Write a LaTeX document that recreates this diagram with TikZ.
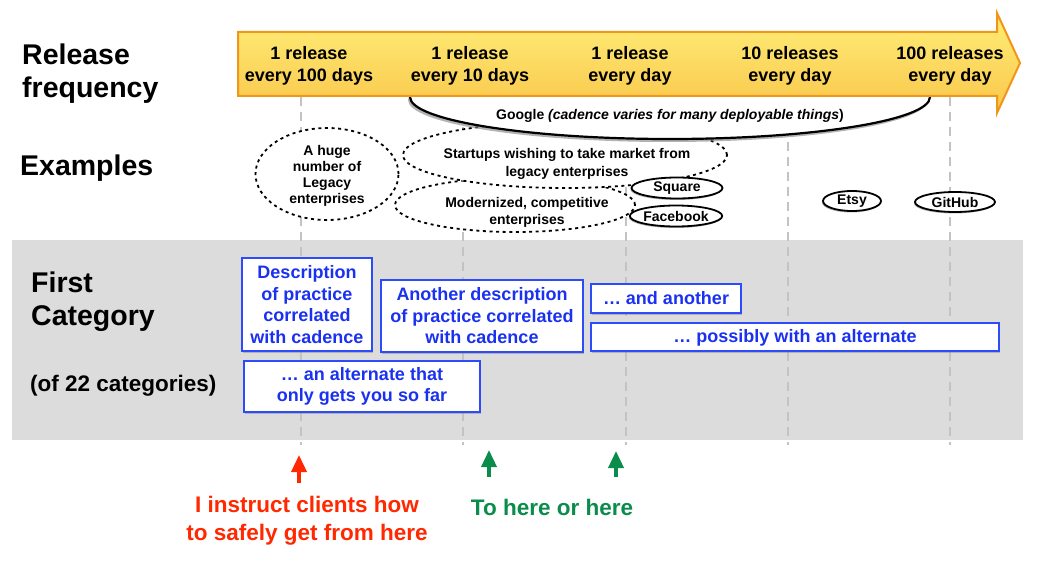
\documentclass[tikz,border=0pt]{standalone}
\usepackage{fontspec}
\setmainfont{Liberation Sans}
\usetikzlibrary{shapes.geometric,shadows,arrows.meta}
\definecolor{arrfill1}{RGB}{255,238,120}
\definecolor{arrfill2}{RGB}{249,198,74}
\definecolor{arrline}{RGB}{240,150,25}
\definecolor{bandgray}{RGB}{220,220,220}
\definecolor{tickgray}{RGB}{195,195,195}
\definecolor{boxblue}{RGB}{45,75,250}
\definecolor{txtblue}{RGB}{26,50,240}
\definecolor{myred}{RGB}{255,40,0}
\definecolor{mygreen}{RGB}{10,140,75}
\tikzset{
  fs/.style 2 args={font=\fontsize{#1}{#2}\selectfont\bfseries},
  head/.style={fs={28.5}{33}, align=left, anchor=base west, inner sep=0pt},
  freq/.style={fs={18}{22}, align=center},
  dotell/.style={ellipse, draw, line width=1.8pt, dash pattern=on 3pt off 3.6pt, fill=white, inner sep=0pt},
  company/.style={ellipse, draw, line width=1.8pt, fill=white, fs={14}{16}, inner sep=0pt, drop shadow={shadow xshift=-1pt, shadow yshift=-1.5pt, opacity=0.6}},
  ptbox/.style={draw=boxblue, line width=1.2pt, fill=white, text=txtblue, fs={18}{21.5}, align=center, inner sep=0pt, drop shadow={shadow xshift=0.5pt, shadow yshift=-2pt, opacity=0.45}},
  tick/.style={tickgray, line width=1.6pt, dash pattern=on 9pt off 6pt},
  uparr/.style={line width=3.5pt, -{Triangle[length=17pt, width=15pt]}},
}
\begin{document}
\begin{tikzpicture}[x=1pt, y=-1pt]
\useasboundingbox (0,0) rectangle (1041,564);
% gray band
\fill[bandgray] (12,240) rectangle (1023,440);
% ticks
\foreach \x/\n in {301/t1,463/t2,626/t3,788/t4,950/t5}{
  \coordinate (\n top) at (\x,97);
  \coordinate (\n bot) at (\x,445);
  \draw[tick] (\n top) -- (\n bot);
}
% example ellipses (back to front)
\node[dotell, minimum width=240pt, minimum height=54pt] (modern) at (515,205) {};
\node[dotell, minimum width=143pt, minimum height=92pt] (legacy) at (327,174) {};
\node[dotell, minimum width=324pt, minimum height=66pt] (startups) at (565,155) {};
% Google ellipse (top half hidden behind arrow)
\node[ellipse, draw, line width=2.2pt, fill=white, minimum width=520pt, minimum height=84pt, inner sep=0pt,
  drop shadow={shadow xshift=-2pt, shadow yshift=-3pt, opacity=0.6}] (google) at (670,97) {};
\node[fs={14}{16}] (googletxt) at (670,116) {Google {\itshape (cadence varies for many deployable things}{\upshape )}};
% release frequency arrow
\path[top color=arrfill1, bottom color=arrfill2, draw=arrline, line width=2pt, line join=miter]
  (238,32) -- (997,32) -- (997,13) -- (1020,63) -- (997,113) -- (997,96) -- (238,96) -- cycle;
\node[freq] (f1) at (309,66) {1 release\\every 100 days};
\node[freq] (f2) at (470,66) {1 release\\every 10 days};
\node[freq] (f3) at (630,66) {1 release\\every day};
\node[freq] (f4) at (790,66) {10 releases\\every day};
\node[freq] (f5) at (950,66) {100 releases\\every day};
% headings
\node[head] (relfreq) at (22,98) {Release\\frequency};
\node[head] (examples) at (20,176) {Examples};
\node[head] (firstcat) at (31,325) {First\\Category};
\node[fs={22.5}{26}, anchor=west, inner sep=0pt] (of22) at (30,386) {(of 22 categories)};
% example texts
\node[fs={14}{16}, align=center] (legacytxt) at (327,176) {A huge\\number of\\Legacy\\enterprises};
\node[fs={14}{18}, align=center] (startupstxt) at (567,164) {Startups wishing to take market from\\legacy enterprises};
\node[fs={14}{17}, align=center] (moderntxt) at (527,212) {Modernized, competitive\\enterprises};
\node[company, minimum width=91pt, minimum height=21pt] (square) at (677,188) {Square};
\node[company, minimum width=92pt, minimum height=21pt] (facebook) at (676,216) {Facebook};
\node[company, minimum width=58pt, minimum height=20pt] (etsy) at (852,201) {Etsy};
\node[company, minimum width=80pt, minimum height=20pt] (github) at (955,202) {GitHub};
% practice boxes
\node[ptbox, minimum width=130pt, minimum height=93pt] (b1) at (307,304.5) {Description\\of practice\\correlated\\with cadence};
\node[ptbox, minimum width=202pt, minimum height=72pt] (b2) at (482,316) {Another description\\of practice correlated\\with cadence};
\node[ptbox, minimum width=150pt, minimum height=29pt] (b3) at (666,298.5) {\dots\ and another};
\node[ptbox, minimum width=408pt, minimum height=28pt, text depth=3pt] (b4) at (795,337) {\dots\ possibly with an alternate};
\node[ptbox, minimum width=236pt, minimum height=51pt] (b5) at (362,386.5) {\dots\ an alternate that\\only gets you so far};
% bottom arrows and notes
\coordinate (r0) at (299,483);
\coordinate (r1) at (299,455);
\coordinate (g10) at (489,477);
\coordinate (g11) at (489,450);
\coordinate (g20) at (616,477);
\coordinate (g21) at (616,451);
\draw[uparr, myred] (r0) -- (r1);
\draw[uparr, mygreen] (g10) -- (g11);
\draw[uparr, mygreen] (g20) -- (g21);
\node[fs={22.5}{28}, text=myred, align=center] (instruct) at (307,521) {I instruct clients how\\to safely get from here};
\node[fs={22.5}{28}, text=mygreen] (tohere) at (552,507) {To here or here};
\end{tikzpicture}
\end{document}
